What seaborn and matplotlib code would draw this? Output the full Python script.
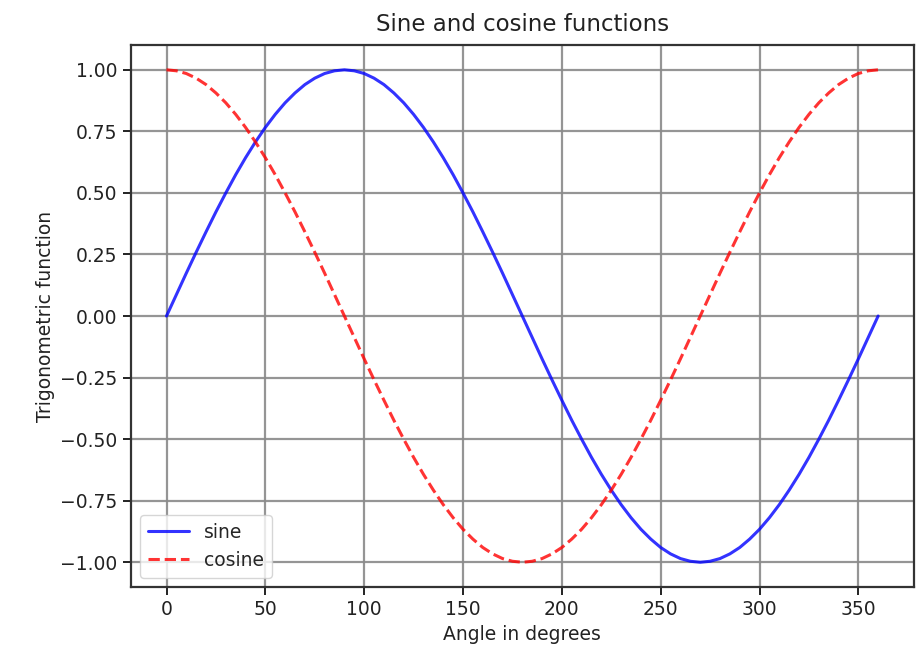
import matplotlib
matplotlib.use("Agg")
import matplotlib.pyplot as plt
import seaborn as sns

angles = list(range(0, 361, 5))
sine_vals = [
    0.000, 0.087, 0.174, 0.259, 0.342, 0.423, 0.500, 0.574, 0.643, 0.707, 0.766, 0.819, 0.866, 0.906, 0.940, 0.966, 0.985, 0.996, 1.000,
    0.996, 0.985, 0.966, 0.940, 0.906, 0.866, 0.819, 0.766, 0.707, 0.643, 0.574, 0.500, 0.423, 0.342, 0.259, 0.174, 0.087, 0.000,
    -0.087, -0.174, -0.259, -0.342, -0.423, -0.500, -0.574, -0.643, -0.707, -0.766, -0.819, -0.866, -0.906, -0.940, -0.966, -0.985, -0.996, -1.000,
    -0.996, -0.985, -0.966, -0.940, -0.906, -0.866, -0.819, -0.766, -0.707, -0.643, -0.574, -0.500, -0.423, -0.342, -0.259, -0.174, -0.087, 0.000,
]
cosine_vals = [
    1.000, 0.996, 0.985, 0.966, 0.940, 0.906, 0.866, 0.819, 0.766, 0.707, 0.643, 0.574, 0.500, 0.423, 0.342, 0.259, 0.174, 0.087, 0.000,
    -0.087, -0.174, -0.259, -0.342, -0.423, -0.500, -0.574, -0.643, -0.707, -0.766, -0.819, -0.866, -0.906, -0.940, -0.966, -0.985, -0.996, -1.000,
    -0.996, -0.985, -0.966, -0.940, -0.906, -0.866, -0.819, -0.766, -0.707, -0.643, -0.574, -0.500, -0.423, -0.342, -0.259, -0.174, -0.087, 0.000,
    0.087, 0.174, 0.259, 0.342, 0.423, 0.500, 0.574, 0.643, 0.707, 0.766, 0.819, 0.866, 0.906, 0.940, 0.966, 0.985, 0.996, 1.000,
]
series_names = ["sine", "cosine"]
title = "Sine and cosine functions"
xlabel = "Angle in degrees"
ylabel = "Trigonometric function"
xtick_vals = [0, 50, 100, 150, 200, 250, 300, 350]
ytick_vals = [-1.0, -0.75, -0.5, -0.25, 0.0, 0.25, 0.5, 0.75, 1.0]
ytick_labels = ["\u22121.00", "\u22120.75", "\u22120.50", "\u22120.25", "0.00", "0.25", "0.50", "0.75", "1.00"]

sns.set_style("ticks")
plt.rcParams["font.family"] = ["DejaVu Sans"]

fig = plt.figure(figsize=(9.22, 6.55), dpi=100)
ax = fig.add_axes([0.142, 0.104, 0.849, 0.827])

sns.lineplot(x=angles, y=sine_vals, color="blue", alpha=0.8, linewidth=2.2,
             label=series_names[0], ax=ax, sort=False)
sns.lineplot(x=angles, y=cosine_vals, color="red", alpha=0.8, linewidth=2.2,
             linestyle="--", dashes=(3, 2), label=series_names[1], ax=ax, sort=False)

ax.set_xlim(-18, 378)
ax.set_ylim(-1.1, 1.1)
ax.set_xticks(xtick_vals)
ax.set_yticks(ytick_vals)
ax.set_yticklabels(ytick_labels)
ax.grid(True, color="#8a8a8a", linewidth=1.6, alpha=0.9)
ax.set_axisbelow(True)
for s in ax.spines.values():
    s.set_color("#333333")
    s.set_linewidth(1.6)
ax.tick_params(axis="both", labelsize=13.5, colors="#222222", length=6, width=1.4)
ax.set_title(title, fontsize=16.5, color="#222222", pad=10)
ax.set_xlabel(xlabel, fontsize=13.5, color="#222222")
ax.set_ylabel(ylabel, fontsize=13.5, color="#222222")
ax.legend(loc="lower left", fontsize=13.5, frameon=True, framealpha=0.8, edgecolor="#cccccc",
          handlelength=2.2)

fig.savefig("out.png", dpi=100)
